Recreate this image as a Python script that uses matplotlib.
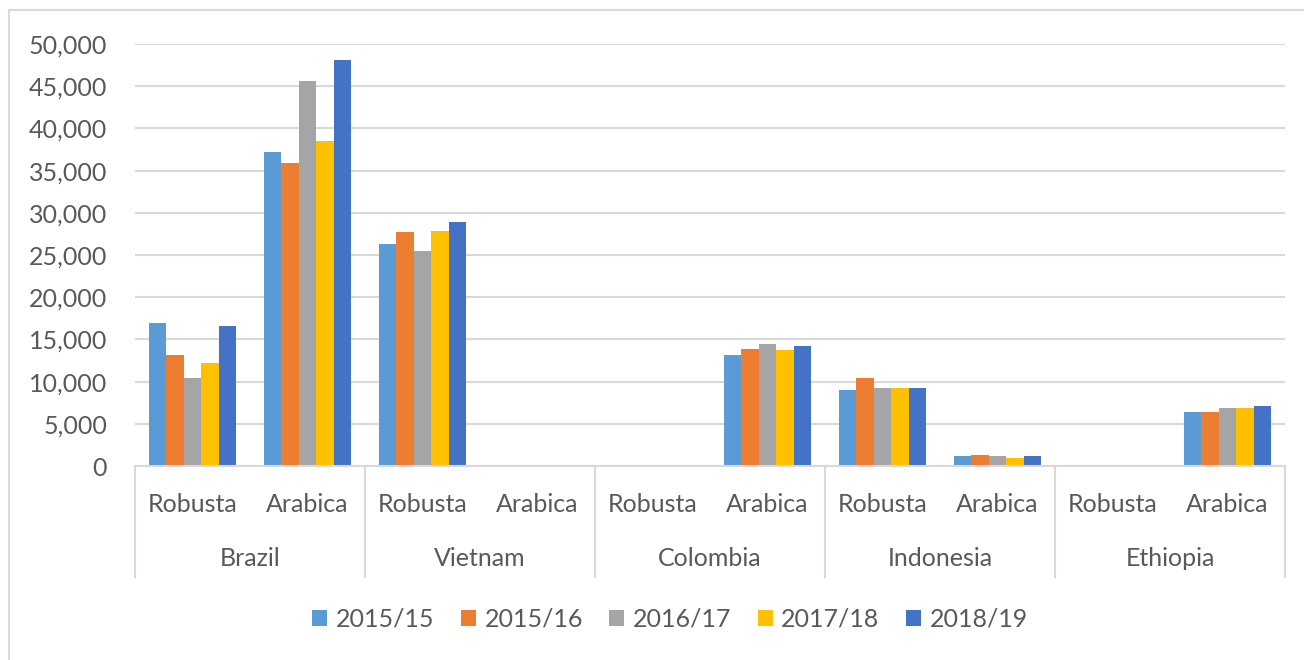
import numpy as np
import matplotlib.pyplot as plt
from matplotlib.patches import Rectangle, Patch
from matplotlib.lines import Line2D
from matplotlib.ticker import FuncFormatter
import matplotlib.transforms as mtransforms

plt.rcParams['font.family'] = ['Lato', 'DejaVu Sans']

countries = ["Brazil", "Vietnam", "Colombia", "Indonesia", "Ethiopia"]
types = ["Robusta", "Arabica"]
seasons = ["2015/15", "2015/16", "2016/17", "2017/18", "2018/19"]
colors = ["#5B9BD5", "#ED7D31", "#A5A5A5", "#FFC000", "#4472C4"]

# order: Brazil R, Brazil A, Vietnam R, Vietnam A, Colombia R, Colombia A, Indonesia R, Indonesia A, Ethiopia R, Ethiopia A
v2015_15 = [16900, 37200, 26300, 0, 0, 13200, 9050, 1150, 0, 6380]
v2015_16 = [13150, 35900, 27700, 0, 0, 13900, 10460, 1340, 0, 6380]
v2016_17 = [10460, 45600, 25500, 0, 0, 14400, 9200, 1150, 0, 6870]
v2017_18 = [12240, 38500, 27900, 0, 0, 13700, 9200, 980, 0, 6870]
v2018_19 = [16600, 48100, 28900, 0, 0, 14250, 9200, 1150, 0, 7070]
series = [v2015_15, v2015_16, v2016_17, v2017_18, v2018_19]

txt = "#595959"
grid = "#D9D9D9"
fs = 18

fig = plt.figure(figsize=(13.04, 6.6), dpi=100)
ax = fig.add_axes([135 / 1304, 1 - 466 / 660, 1150 / 1304, 422 / 660])

x = np.arange(len(countries) * len(types))
w = 0.153
for i, vals in enumerate(series):
    ax.bar(x + (i - 2) * w, vals, width=w, color=colors[i], linewidth=0, zorder=3)

ax.set_xlim(-0.5, len(x) - 0.5)
ax.set_ylim(0, 50000)
ax.set_yticks(np.arange(0, 50001, 5000))
ax.yaxis.set_major_formatter(FuncFormatter(lambda v, p: f"{int(v):,}"))
ax.tick_params(axis='y', length=0, pad=20, labelsize=fs, labelcolor=txt)
ax.set_xticks([])
ax.grid(axis='y', color=grid, linewidth=1.5, zorder=0)
for s in ["top", "right", "left"]:
    ax.spines[s].set_visible(False)
ax.spines["bottom"].set_color(grid)
ax.spines["bottom"].set_linewidth(1.5)
ax.spines["bottom"].set_zorder(4)

# multi-level category axis
trans = mtransforms.blended_transform_factory(ax.transData, ax.transAxes)
for k, xi in enumerate(x):
    ax.text(xi, -39 / 422, types[k % 2], transform=trans, ha='center', va='center',
            fontsize=fs, color=txt)
for g, name in enumerate(countries):
    ax.text(2 * g + 0.5, -93 / 422, name, transform=trans, ha='center', va='center',
            fontsize=fs, color=txt)
for b in np.arange(-0.5, len(x), 2):
    ax.add_line(Line2D([b, b], [0, -111 / 422], transform=trans, color=grid,
                       linewidth=1.5, clip_on=False))

handles = [Patch(facecolor=c, edgecolor='none') for c in colors]
fig.legend(handles, seasons, loc='center', bbox_to_anchor=(670 / 1304, 1 - 619 / 660),
           ncol=5, frameon=False, fontsize=fs, labelcolor=txt,
           handlelength=0.6, handleheight=0.6, handletextpad=0.35, columnspacing=1.05)

fig.patches.append(Rectangle((9 / 1304, -0.02), 1.0, 1 - 10 / 660 + 0.02,
                             transform=fig.transFigure, fill=False,
                             edgecolor=grid, linewidth=1.5))

fig.savefig("out.png", dpi=100)
